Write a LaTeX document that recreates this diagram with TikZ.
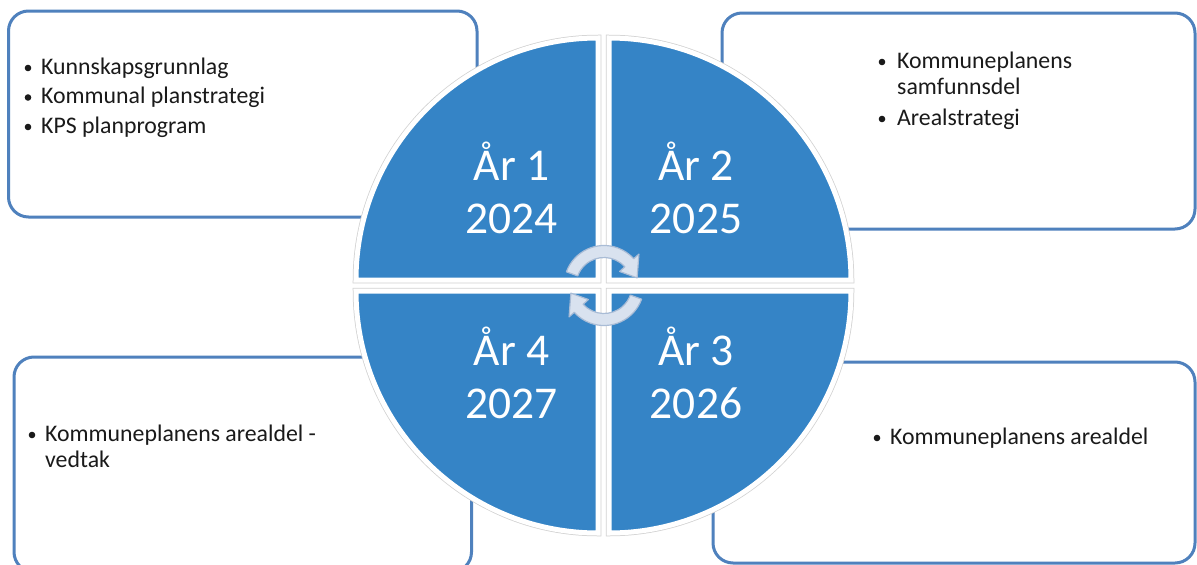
\documentclass[tikz,border=0pt]{standalone}
\usepackage{fontspec}
\setmainfont{Carlito}
\usetikzlibrary{calc}
\definecolor{quadblue}{HTML}{3584C6}
\definecolor{boxblue}{HTML}{4F81BD}
\definecolor{arrowfill}{HTML}{D9E2EF}
\definecolor{arrowline}{HTML}{A9BCD6}
\definecolor{txtdark}{HTML}{1A1A1A}
\begin{document}
\begin{tikzpicture}[x=1pt,y=-1pt,
  infobox/.style={draw=boxblue, line width=3pt, rounded corners=20pt, fill=white},
  quadrim/.style={preaction={draw=black!18, line width=6.5pt}, fill=quadblue, draw=white, line width=5pt},
  bigtxt/.style={text=white, font=\fontsize{45.5}{53}\selectfont, inner sep=0pt, anchor=base},
  smalltxt/.style={text=txtdark, font=\fontsize{23.8}{26}\selectfont, inner sep=0pt, anchor=base west},
  bul/.style={fill=txtdark},
  cyc/.style={fill=arrowfill, draw=arrowline, line width=1.2pt, line join=round}]
\clip (0,0) rectangle (1197,565);
\fill[white] (0,0) rectangle (1197,565);
% info boxes
\draw[infobox] (8.5,11) rectangle (477,217);
\draw[infobox] (722,13) rectangle (1195,229);
\draw[infobox] (14,357) rectangle (471.5,572);
\draw[infobox] (713,362) rectangle (1195,563);
% quadrants
\path[quadrim] (598,280) -- ++(-242,0) arc[start angle=180,end angle=270,radius=242] -- cycle;
\path[quadrim] (609,280) -- ++(0,-242) arc[start angle=270,end angle=360,radius=242] -- cycle;
\path[quadrim] (598,291) -- ++(0,242) arc[start angle=90,end angle=180,radius=242] -- cycle;
\path[quadrim] (609,291) -- ++(242,0) arc[start angle=0,end angle=90,radius=242] -- cycle;
% year labels
\node[bigtxt] (y1a) at (511.5,180) {År 1};
\node[bigtxt] (y1b) at (511.5,233) {2024};
\node[bigtxt] (y2a) at (696,180) {År 2};
\node[bigtxt] (y2b) at (696,233) {2025};
\node[bigtxt] (y4a) at (511.5,365) {År 4};
\node[bigtxt] (y4b) at (511.5,418) {2027};
\node[bigtxt] (y3a) at (696,365) {År 3};
\node[bigtxt] (y3b) at (696,418) {2026};
% cycle arrows
\coordinate (C) at (604,285.5);
\path[cyc] ($(C)+(200:40)$) arc[start angle=200, end angle=318, radius=40]
  -- ($(C)+(318:47)$) -- ($(C)+(347:34)$) -- ($(C)+(318:21)$)
  -- ($(C)+(318:28)$) arc[start angle=318, end angle=200, radius=28] -- cycle;
\path[cyc] ($(C)+(20:40)$) arc[start angle=20, end angle=138, radius=40]
  -- ($(C)+(138:47)$) -- ($(C)+(167:34)$) -- ($(C)+(138:21)$)
  -- ($(C)+(138:28)$) arc[start angle=138, end angle=20, radius=28] -- cycle;
% top-left text
\fill[bul] (28,68) circle (3.3);
\node[smalltxt] (a1) at (41,74) {Kunnskapsgrunnlag};
\fill[bul] (28,97.5) circle (3.3);
\node[smalltxt] (a2) at (41,103.5) {Kommunal planstrategi};
\fill[bul] (28,127) circle (3.3);
\node[smalltxt] (a3) at (41,133) {KPS planprogram};
% top-right text
\fill[bul] (882,62) circle (3.3);
\node[smalltxt] (b1) at (897,68) {Kommuneplanens};
\node[smalltxt] (b2) at (897,94.5) {samfunnsdel};
\fill[bul] (882,119) circle (3.3);
\node[smalltxt] (b3) at (897,125) {Arealstrategi};
% bottom-left text
\fill[bul] (32,435) circle (3.3);
\node[smalltxt] (c1) at (45,441) {Kommuneplanens arealdel -};
\node[smalltxt] (c2) at (45,467) {vedtak};
% bottom-right text
\fill[bul] (877,438) circle (3.3);
\node[smalltxt] (d1) at (890,444) {Kommuneplanens arealdel};
\end{tikzpicture}
\end{document}
